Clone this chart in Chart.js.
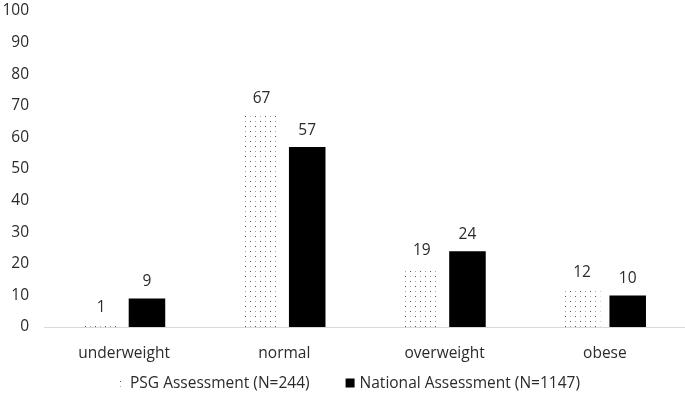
<!DOCTYPE html>
<html><head><meta charset="utf-8">
<script src="https://cdn.jsdelivr.net/npm/chart.js@4.4.1/dist/chart.umd.min.js"></script>
<style>html,body{margin:0;padding:0;background:#fff}#w{width:685px;height:402px}</style>
</head><body><div id="w"><canvas id="c"></canvas></div>
<script>
const categories = ["underweight", "normal", "overweight", "obese"];
const psgValues = [1, 67, 19, 12];
const nationalValues = [9, 57, 24, 10];
const seriesNames = ["PSG Assessment (N=244)", "National Assessment (N=1147)"];
const yTicks = [0,10,20,30,40,50,60,70,80,90,100];

function dotPattern(){
  const p = document.createElement('canvas');
  p.width = 10; p.height = 10;
  const g = p.getContext('2d');
  g.fillStyle = '#fff'; g.fillRect(0,0,10,10);
  g.fillStyle = '#555'; g.fillRect(0,1,1,1); g.fillRect(5,6,1,1);
  g.fillStyle = '#aaa'; g.fillRect(5,1,1,1); g.fillRect(0,6,1,1);
  return g.createPattern(p, 'repeat');
}
const pat = dotPattern();
const txt = '#2b2b2b';
const font = "'Open Sans', sans-serif";
const fs = 15.5;

const labelPlugin = {
  id: 'vals',
  afterDatasetsDraw(chart){
    const ctx = chart.ctx;
    ctx.save();
    ctx.font = fs + "px " + font;
    ctx.fillStyle = txt;
    ctx.textAlign = 'center';
    ctx.textBaseline = 'bottom';
    chart.data.datasets.forEach((ds, i) => {
      chart.getDatasetMeta(i).data.forEach((bar, j) => {
        ctx.fillText(String(ds.data[j]), bar.x, bar.y - 9);
      });
    });
    ctx.restore();
  }
};

const legendPlugin = {
  id: 'legendBottom',
  afterDraw(chart){
    const ctx = chart.ctx;
    ctx.save();
    ctx.font = fs + "px " + font;
    ctx.textBaseline = 'middle';
    ctx.textAlign = 'left';
    const ds = chart.data.datasets;
    const box = 9, gap = 5, between = 36;
    const widths = ds.map(d => ctx.measureText(d.label).width);
    let total = 0;
    widths.forEach((w, i) => { total += box + gap + w + (i < widths.length - 1 ? between : 0); });
    let x = 348 - total / 2;
    const y = 383;
    ds.forEach((d, i) => {
      ctx.fillStyle = d.backgroundColor;
      ctx.fillRect(x, y - box / 2, box, box);
      ctx.fillStyle = txt;
      ctx.fillText(d.label, x + box + gap, y + 1);
      x += box + gap + widths[i] + between;
    });
    ctx.restore();
  }
};

new Chart(document.getElementById('c'), {
  type: 'bar',
  data: {
    labels: categories,
    datasets: [
      {label: seriesNames[0], data: psgValues, backgroundColor: pat, borderWidth: 0},
      {label: seriesNames[1], data: nationalValues, backgroundColor: '#000', borderWidth: 0}
    ]
  },
  options: {
    responsive: true, maintainAspectRatio: false, animation: false,
    devicePixelRatio: 1,
    layout: {padding: {top: 11, right: 0, left: 0, bottom: 35}},
    categoryPercentage: 0.57, barPercentage: 0.8,
    scales: {
      x: {
        afterFit(s){ s.height = 40; },
        grid: {display: false, drawTicks: false},
        border: {display: true, color: '#d9d9d9', width: 1},
        ticks: {color: txt, font: {family: font, size: fs}, padding: 17}
      },
      y: {
        min: 0, max: 100,
        afterBuildTicks(s){ s.ticks = yTicks.map(v => ({value: v})); },
        afterFit(s){ s.width = 44; s.paddingTop = 0; s.paddingBottom = 0; },
        grid: {display: false, drawTicks: false},
        border: {display: false},
        ticks: {color: txt, font: {family: font, size: fs}, padding: 15}
      }
    },
    plugins: {
      legend: {display: false},
      tooltip: {enabled: false}
    }
  },
  plugins: [labelPlugin, legendPlugin]
});
</script></body></html>
